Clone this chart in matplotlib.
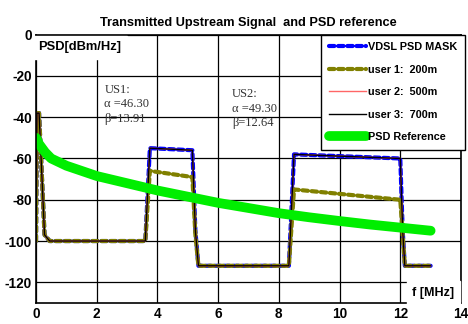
import numpy as np
import matplotlib
matplotlib.use("Agg")
import matplotlib.pyplot as plt

# frequency breakpoints [MHz] and levels [dBm/Hz]
f_mask = [0.0, 0.03, 0.10, 0.28, 0.45, 3.60, 3.75, 5.15, 5.25, 5.35, 8.33, 8.50, 12.00, 12.08, 12.15, 13.00]
psd_mask = [-100, -38, -38, -97, -100, -100, -55, -56, -95, -112, -112, -58, -60, -95, -112, -112]
psd_user1 = [-100, -38, -38, -97, -100, -100, -66, -69, -97, -112, -112, -75, -80, -97, -112, -112]
psd_user2 = psd_mask
psd_user3 = psd_mask

f_ref = [0.0, 0.1, 0.3, 0.5, 1.0, 2.0, 3.0, 4.0, 5.0, 6.0, 7.0, 8.0, 9.0, 10.0, 11.0, 12.0, 13.0]
psd_ref = [-50, -53, -57, -60, -63.5, -68.5, -72, -75.5, -78.5, -81.5, -84, -86.5, -88.5, -90.3, -92, -93.5, -95]

plt.rcParams['font.family'] = ['Liberation Sans', 'DejaVu Sans']
plt.rcParams['axes.unicode_minus'] = False
fig, ax = plt.subplots(figsize=(4.68, 3.24), dpi=100)
fig.subplots_adjust(left=0.077, right=0.985, top=0.893, bottom=0.065)

ax.plot(f_mask, psd_mask, color='#0000ff', lw=3, ls=(0, (1.3, 0.9)), dash_capstyle='round',
        label='VDSL PSD MASK')
ax.plot(f_mask, psd_user1, color='#808000', lw=3, ls=(0, (1.3, 0.9)), dash_capstyle='round',
        label='user 1:  200m')
ax.plot(f_mask, psd_user2, color='#ff6666', lw=1, label='user 2:  500m')
ax.plot(f_mask, psd_user3, color='black', lw=1, label='user 3:  700m')
ax.plot(f_ref, psd_ref, color='#00ee00', lw=7, solid_capstyle='round', label='PSD Reference')

ax.set_xlim(0, 14)
ax.set_ylim(-130, 0)
ax.set_xticks(np.arange(0, 15, 2))
ax.set_yticks(np.arange(-120, 1, 20))
ax.grid(True, color='black', lw=0.9)
ax.tick_params(length=0, labelsize=9.8, pad=3)
for lbl in ax.get_xticklabels() + ax.get_yticklabels():
    lbl.set_fontweight('bold')
for s in ax.spines.values():
    s.set_linewidth(1.2)

ax.set_title('Transmitted Upstream Signal  and PSD reference', fontsize=9.2, fontweight='bold', pad=6)
ax.text(0.006, 0.975, 'PSD[dBm/Hz]', transform=ax.transAxes, fontsize=9.3, fontweight='bold',
        va='top', ha='left', backgroundcolor='white')
ax.text(0.985, 0.015, 'f [MHz]', transform=ax.transAxes, fontsize=9, fontweight='bold',
        va='bottom', ha='right', backgroundcolor='white')
serif = ['Liberation Serif', 'DejaVu Serif']
ax.text(2.25, -24, 'US1:\nα =46.30\nβ=13.91', fontsize=9, family=serif,
        va='top', ha='left', linespacing=1.25, color='#333333')
ax.text(6.45, -26, 'US2:\nα =49.30\nβ=12.64', fontsize=9, family=serif,
        va='top', ha='left', linespacing=1.25, color='#333333')

leg = ax.legend(loc='upper right', bbox_to_anchor=(1.01, 1.0), fontsize=7.8, frameon=True, fancybox=False,
                edgecolor='black', framealpha=1, borderaxespad=0, handlelength=3.4, handletextpad=0.25,
                labelspacing=1.15, borderpad=0.7)
leg.get_frame().set_linewidth(1.0)
for t in leg.get_texts():
    t.set_fontweight('bold')

fig.savefig('out.png', dpi=100)
